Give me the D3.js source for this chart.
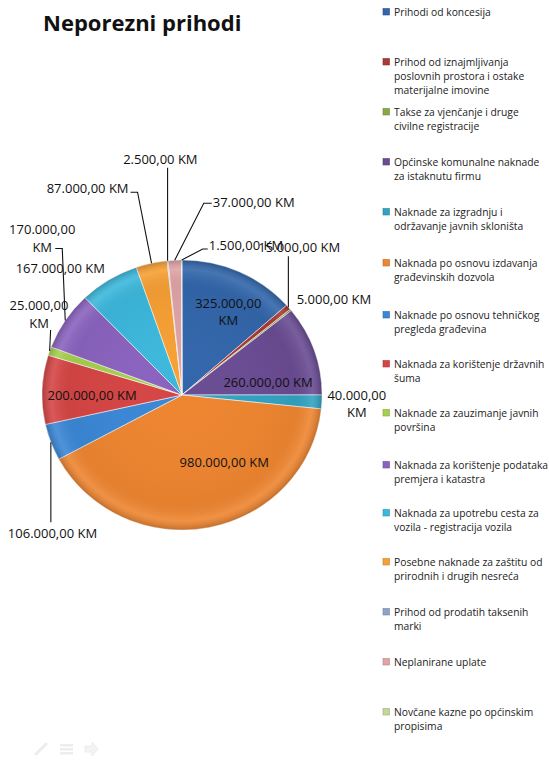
<!DOCTYPE html>
<html><head><meta charset="utf-8">
<script src="https://cdn.jsdelivr.net/npm/d3@7"></script>
<style>
html,body{margin:0;padding:0;background:#fff;}
svg{display:block;}
</style></head>
<body>
<script>
const categories = [
  "Prihodi od koncesija",
  "Prihod od iznajmljivanja poslovnih prostora i ostake materijalne imovine",
  "Takse za vjenčanje i druge civilne registracije",
  "Općinske komunalne naknade za istaknutu firmu",
  "Naknade za izgradnju i održavanje javnih skloništa",
  "Naknada po osnovu  izdavanja građevinskih dozvola",
  "Naknade po osnovu tehničkog pregleda građevina",
  "Naknada za korištenje državnih šuma",
  "Naknade za zauzimanje javnih površina",
  "Naknada za korištenje podataka premjera i katastra",
  "Naknada za upotrebu cesta za vozila - registracija vozila",
  "Posebne naknade za zaštitu od prirodnih i drugih nesreća",
  "Prihod od prodatih taksenih marki",
  "Neplanirane uplate",
  "Novčane kazne po općinskim propisima"
];
const legendLines = [
  ["Prihodi od koncesija"],
  ["Prihod od iznajmljivanja","poslovnih prostora i ostake","materijalne imovine"],
  ["Takse za vjenčanje i druge","civilne registracije"],
  ["Općinske komunalne naknade","za istaknutu firmu"],
  ["Naknade za izgradnju i","održavanje javnih skloništa"],
  ["Naknada po osnovu  izdavanja","građevinskih dozvola"],
  ["Naknade po osnovu tehničkog","pregleda građevina"],
  ["Naknada za korištenje državnih","šuma"],
  ["Naknade za zauzimanje javnih","površina"],
  ["Naknada za korištenje podataka","premjera i katastra"],
  ["Naknada za upotrebu cesta za","vozila - registracija vozila"],
  ["Posebne naknade za zaštitu od","prirodnih i drugih nesreća"],
  ["Prihod od prodatih taksenih","marki"],
  ["Neplanirane uplate"],
  ["Novčane kazne po općinskim","propisima"]
];
const values = [325000, 15000, 5000, 260000, 40000, 980000, 106000, 200000, 25000, 170000, 167000, 87000, 2500, 37000, 1500];
const colors = ["#3266ab","#a93a37","#8aa84a","#6a4c93","#31a3c2","#ee8530","#3b87d6","#d64545","#a6cf4f","#8a63bf","#3cb8dc","#f7a034","#8ea3c8","#e0a3a6","#c3d69b"];
const legendTop = [12, 62, 112, 162, 212, 263, 315, 364, 413, 465, 513, 562, 612, 662, 712];

// label layout: offsets from the slice's outer mid-edge point
const labelLayout = [
  {dx:-11, dy:36, anchor:"middle", split:true},
  {dx:-30, dy:-55, anchor:"start", leader:[[0,-51]]},
  {dx:6, dy:-6, anchor:"start"},
  {dx:-46, dy:37, anchor:"middle"},
  {dx:35, dy:-2, anchor:"middle", split:true},
  {dx:15, dy:-60, anchor:"middle"},
  {dx:-43, dy:96, anchor:"start", leader:[[0,80]]},
  {dx:50, dy:10, anchor:"middle"},
  {dx:-10.6, dy:-41, anchor:"middle", split:true, leader:[[1,-21]]},
  {dx:-23, dy:-86, anchor:"middle", split:true, leader:[[-10,-72],[-3,-72]]},
  {dx:-4, dy:-7, anchor:"end"},
  {dx:-23, dy:-70, anchor:"end", leader:[[-21,-71],[-14,-71]]},
  {dx:30, dy:-97, anchor:"end", leader:[[0,-93]]},
  {dx:38, dy:-53, anchor:"start", leader:[[37,-57],[29,-57]]},
  {dx:27, dy:-10, anchor:"start", leader:[[26,-11],[21,-11]]}
];

const W = 549, H = 782;
const cx = 182, cy = 395, R = 140, sy = 135/140;

const svg = d3.select("body").append("svg").attr("width", W).attr("height", H);

svg.append("text").attr("x", 43).attr("y", 31)
  .attr("font-family", "'Open Sans', sans-serif").attr("font-weight", "bold")
  .attr("font-size", 22).attr("fill", "#111").text("Neporezni prihodi");

const fmt = v => {
  const s = Math.round(v).toString().replace(/\B(?=(\d{3})+(?!\d))/g, ".");
  return s + ",00 KM";
};

const data = values.map((v,i) => ({name: categories[i], value: v, color: colors[i], i}));
const pie = d3.pie().sort(null).value(d => d.value).startAngle(0).endAngle(2*Math.PI);
const arcs = pie(data);
const arc = d3.arc().innerRadius(0).outerRadius(R);

const defs = svg.append("defs");
const rg = defs.append("radialGradient").attr("id","bevel").attr("cx","50%").attr("cy","50%").attr("r","50%");
rg.append("stop").attr("offset","0%").attr("stop-color","#fff").attr("stop-opacity",0.0);
rg.append("stop").attr("offset","80%").attr("stop-color","#000").attr("stop-opacity",0.04);
rg.append("stop").attr("offset","93%").attr("stop-color","#fff").attr("stop-opacity",0.10);
rg.append("stop").attr("offset","100%").attr("stop-color","#000").attr("stop-opacity",0.18);

const g = svg.append("g").attr("transform", `translate(${cx},${cy}) scale(1,${sy})`);
g.selectAll("path.slice").data(arcs).enter().append("path")
  .attr("class","slice").attr("d", arc)
  .attr("fill", d => d.data.color)
  .attr("stroke", "rgba(255,255,255,0.55)").attr("stroke-width", 1);
g.append("circle").attr("r", R).attr("fill","url(#bevel)");

const edge = d => {
  const a = (d.startAngle + d.endAngle)/2;
  return [cx + R*Math.sin(a), cy - R*sy*Math.cos(a)];
};

const lbl = svg.append("g").attr("font-family","'Open Sans', sans-serif").attr("font-size", 13).attr("fill","#111");
arcs.forEach((d,i) => {
  const L = labelLayout[i];
  const [ex, ey] = edge(d);
  if (L.leader) {
    const pts = L.leader.map(p => [ex+p[0], ey+p[1]]).concat([[ex, ey]]);
    svg.append("path").attr("d", d3.line()(pts)).attr("fill","none")
      .attr("stroke","#111").attr("stroke-width",1.1);
  }
  const t = lbl.append("text").attr("x", ex+L.dx).attr("y", ey+L.dy).attr("text-anchor", L.anchor);
  const s = fmt(d.data.value);
  if (L.split) {
    const parts = s.split(" ");
    t.append("tspan").attr("x", ex+L.dx).attr("dy", 0).text(parts[0]);
    t.append("tspan").attr("x", ex+L.dx).attr("dy", 17.5).text(parts[1]);
  } else t.text(s);
});

// legend
const lg = svg.append("g").attr("font-family","'Open Sans', sans-serif").attr("font-size", 10.3).attr("fill","#222");
legendLines.forEach((lines, i) => {
  const y = legendTop[i];
  lg.append("rect").attr("x", 383).attr("y", y-3.5).attr("width", 6.5).attr("height", 6.5)
    .attr("fill", colors[i]).attr("stroke", d3.color(colors[i]).darker(0.6)).attr("stroke-width", 0.6);
  lines.forEach((ln, j) => {
    lg.append("text").attr("x", 394).attr("y", y + 3.6 + j*14).text(ln);
  });
});

// faint slideshow controls
const ic = svg.append("g").attr("opacity", 0.35);
ic.append("path").attr("d","M36,754 L46,744").attr("stroke","#ccc").attr("stroke-width",3).attr("stroke-linecap","round");
[744,748,752].forEach(y=>ic.append("rect").attr("x",60).attr("y",y).attr("width",13).attr("height",2.5).attr("fill","#ccc"));
ic.append("path").attr("d","M85,746 L92,746 L92,742 L98,749 L92,756 L92,752 L85,752 Z").attr("fill","#ddd").attr("stroke","#ccc");
</script>
</body></html>
